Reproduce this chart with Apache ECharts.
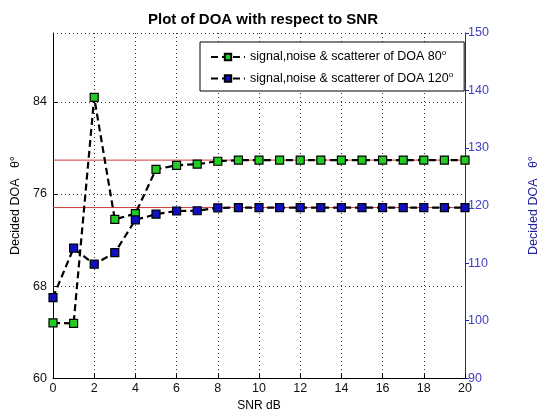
<!DOCTYPE html>
<html>
<head>
<meta charset="utf-8">
<script src="https://cdn.jsdelivr.net/npm/echarts@6/dist/echarts.min.js"></script>
<style>
  html, body { margin: 0; padding: 0; background: #fff; }
  #chart { width: 558px; height: 417px; }
</style>
</head>
<body>
<div id="chart"></div>
<script>
// SNR (dB) on x axis
const snr = [0, 1, 2, 3, 4, 5, 6, 7, 8, 9, 10, 11, 12, 13, 14, 15, 16, 17, 18, 19, 20]
// DOA 80 series, read on left axis
const doa80 = [64.8, 64.75, 84.4, 73.8, 74.3, 78.15, 78.5, 78.6, 78.85, 78.95, 78.95, 78.95, 78.95, 78.95, 78.95, 78.95, 78.95, 78.95, 78.95, 78.95, 78.95]
// DOA 120 series, read on right axis
const doa120 = [104.0, 112.6, 109.8, 111.8, 117.5, 118.5, 119.05, 119.1, 119.6, 119.65, 119.65, 119.65, 119.65, 119.65, 119.65, 119.65, 119.65, 119.65, 119.65, 119.65, 119.65]
// red reference lines
const refLeft = 78.95
const refRight = 119.65

const names = ['signal,noise & scatterer of DOA 80', 'signal,noise & scatterer of DOA 120']

const chart = echarts.init(document.getElementById('chart'))
const font = 'Liberation Sans, Arial, sans-serif'

const option = {
  animation: false,
  backgroundColor: '#fff',
  title: {
    text: 'Plot of DOA with respect to SNR',
    left: 258,
    textAlign: 'center',
    top: 7,
    textStyle: { fontFamily: font, fontSize: 15, fontWeight: 'bold', color: '#000' }
  },
  legend: {
    data: names,
    orient: 'vertical',
    left: 200,
    top: 42,
    itemGap: 7,
    itemWidth: 34,
    itemHeight: 8,
    padding: [7, 11, 6, 10],
    borderColor: '#000',
    borderWidth: 1,
    backgroundColor: '#fff',
    formatter: n => n + '{sup|o}',
    textStyle: {
      fontFamily: font, fontSize: 12.5, color: '#000',
      rich: { sup: { fontSize: 8, verticalAlign: 'top', padding: [0, 0, 8, 0], fontFamily: font } }
    }
  },
  grid: { left: 53, right: 93, top: 33, bottom: 37 },
  xAxis: {
    type: 'value',
    min: 0, max: 20, interval: 2,
    name: 'SNR dB',
    nameLocation: 'middle',
    nameGap: 21,
    nameTextStyle: { fontFamily: font, fontSize: 12, color: '#000' },
    axisLine: { lineStyle: { color: '#000' } },
    axisTick: { inside: true, length: 4, lineStyle: { color: '#000' } },
    axisLabel: { fontFamily: font, fontSize: 12.5, color: '#111', margin: 4 },
    splitLine: { show: true, lineStyle: { type: [1, 3], color: '#333' } }
  },
  yAxis: [
    {
      type: 'value',
      min: 60, max: 90, interval: 8,
      position: 'left',
      name: 'Decided DOA   θ°',
      nameLocation: 'middle',
      nameRotate: 90,
      nameGap: 27,
      nameTextStyle: { fontFamily: font, fontSize: 12.5, color: '#000' },
      axisLine: { show: true, lineStyle: { color: '#000' } },
      axisTick: { inside: true, length: 4, lineStyle: { color: '#000' } },
      axisLabel: { fontFamily: font, fontSize: 12.5, color: '#111', showMaxLabel: false, margin: 6 },
      splitLine: { show: true, lineStyle: { type: [1, 3], color: '#333' } }
    },
    {
      type: 'value',
      min: 90, max: 150, interval: 10,
      position: 'right',
      name: 'Decided DOA   θ°',
      nameLocation: 'middle',
      nameRotate: 90,
      nameGap: 62,
      nameTextStyle: { fontFamily: font, fontSize: 12.5, color: '#2020a0' },
      axisLine: { show: true, lineStyle: { color: '#2020c0' } },
      axisTick: { show: true, length: 4, lineStyle: { color: '#2020c0' } },
      axisLabel: { fontFamily: font, fontSize: 12.5, color: '#4040c0', margin: 3 },
      splitLine: { show: false }
    }
  ],
  series: [
    {
      name: 'ref80', type: 'line', yAxisIndex: 0, silent: true, symbol: 'none',
      data: [[snr[0], refLeft], [snr[snr.length - 1], refLeft]],
      lineStyle: { color: '#d03a3a', width: 1 }, z: 1
    },
    {
      name: 'ref120', type: 'line', yAxisIndex: 1, silent: true, symbol: 'none',
      data: [[snr[0], refRight], [snr[snr.length - 1], refRight]],
      lineStyle: { color: '#d03a3a', width: 1 }, z: 1
    },
    {
      name: names[0], type: 'line', yAxisIndex: 0,
      data: snr.map((x, i) => [x, doa80[i]]),
      symbol: 'rect', symbolSize: 8,
      itemStyle: { color: '#22cc22', borderColor: '#000', borderWidth: 1.2 },
      lineStyle: { color: '#000', width: 2.2, type: [7, 4] },
      z: 3
    },
    {
      name: names[1], type: 'line', yAxisIndex: 1,
      data: snr.map((x, i) => [x, doa120[i]]),
      symbol: 'rect', symbolSize: 8,
      itemStyle: { color: '#1010c0', borderColor: '#000', borderWidth: 1.2 },
      lineStyle: { color: '#000', width: 2.2, type: [7, 4] },
      z: 3
    }
  ]
}

chart.setOption(option)
</script>
</body>
</html>
